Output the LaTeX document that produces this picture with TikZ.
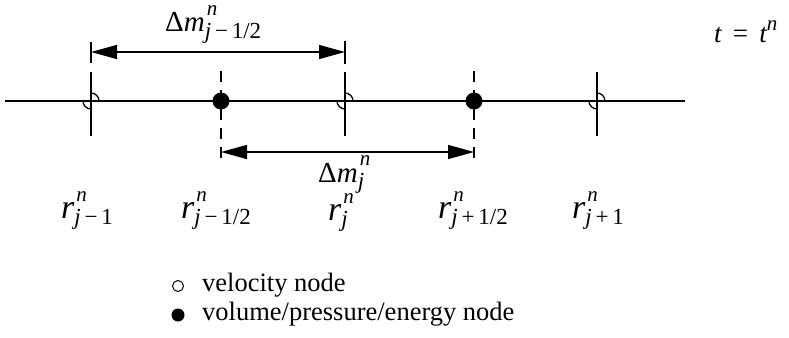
\documentclass[tikz,border=0pt]{standalone}
\usepackage{fontspec}
\setmainfont{Liberation Serif}[ItalicFont={Liberation Serif Italic}]
\usetikzlibrary{arrows.meta}
\newcommand{\supfont}{\fontsize{21}{21}\selectfont}
\newcommand{\subfont}{\fontsize{23}{23}\selectfont}
\newcommand{\supsub}[4]{\rlap{\raisebox{#3}{\supfont\itshape\kern2pt #1}}\raisebox{#4}{\subfont #2}}
\newcommand{\rlab}[1]{{\fontsize{34}{34}\selectfont\itshape r}\supsub{n}{#1}{17pt}{-6pt}}
\newcommand{\dmlab}[1]{{\fontsize{29}{29}\selectfont\upshape\char"0394\itshape m}\supsub{n}{#1}{17pt}{-6pt}}
\newcommand{\mns}{\,\upshape−\,}
\newcommand{\pls}{\,\upshape+\,}
\begin{document}
\begin{tikzpicture}[x=1pt,y=-1pt,
  lw/.style={line width=1.4pt},
  pnode/.style={circle,fill=black,draw=none,inner sep=0pt,minimum size=17pt},
  dimarrow/.style={lw,{Triangle[length=26pt,width=14pt]}-{Triangle[length=26pt,width=14pt]}},
  lab/.style={anchor=base west,inner sep=0pt},
  legtxt/.style={anchor=base west,inner sep=0pt,font=\fontsize{26.5}{30}\selectfont}]
\useasboundingbox (0,0) rectangle (789,337);
% axis
\coordinate (L) at (5,101);
\coordinate (R) at (685,101);
\draw[lw] (L) -- (R);
% velocity nodes
\foreach \n/\x in {v1/91,v2/345,v3/597}{
  \coordinate (\n) at (\x,101);
  \draw[lw] (\x,72) -- (\x,136);
  \draw[line width=1.3pt] (\x-8,101) arc[start angle=180,end angle=90,radius=8];
  \draw[line width=1.3pt] (\x,93) arc[start angle=270,end angle=360,radius=8];
}
% pressure nodes
\node[pnode] (p1) at (221,101) {};
\node[pnode] (p2) at (474,101) {};
\draw[lw,dash pattern=on 11pt off 8pt] (221,71) -- (221,163);
\draw[lw,dash pattern=on 11pt off 8pt] (474,71) -- (474,163);
% top dimension
\coordinate (ta) at (91,52);
\coordinate (tb) at (345,52);
\draw[lw] (91,42) -- (91,63);
\draw[lw] (345,41) -- (345,64);
\draw[dimarrow] (ta) -- (tb);
% bottom dimension
\coordinate (ba) at (221,152);
\coordinate (bb) at (474,152);
\draw[dimarrow] (ba) -- (bb);
% labels
\node[lab] (dm1) at (165,32) {\dmlab{\itshape j\mns 1/2}};
\node[lab] (dm2) at (318,182) {\dmlab{\itshape j}};
\node[lab] (r1) at (61,218) {\rlab{\itshape j\mns 1}};
\node[lab] (r2) at (181,218) {\rlab{\itshape j\mns 1/2}};
\node[lab] (r3) at (328,220) {\rlab{\itshape j}};
\node[lab] (r4) at (438,218) {\rlab{\itshape j\pls 1/2}};
\node[lab] (r5) at (572,218) {\rlab{\itshape j\pls 1}};
\node[lab] (tt) at (714,43) {\fontsize{27}{27}\selectfont\itshape t\, \upshape=\, \itshape t\rlap{\raisebox{12pt}{\supfont\itshape n}}};
% legend
\draw[line width=1pt] (178,286) circle[radius=5.5];
\node[pnode,minimum size=13pt] (lf) at (178,315) {};
\node[legtxt] (l1) at (202,291) {velocity node};
\node[legtxt] (l2) at (202,320) {volume/pressure/energy node};
\end{tikzpicture}
\end{document}
